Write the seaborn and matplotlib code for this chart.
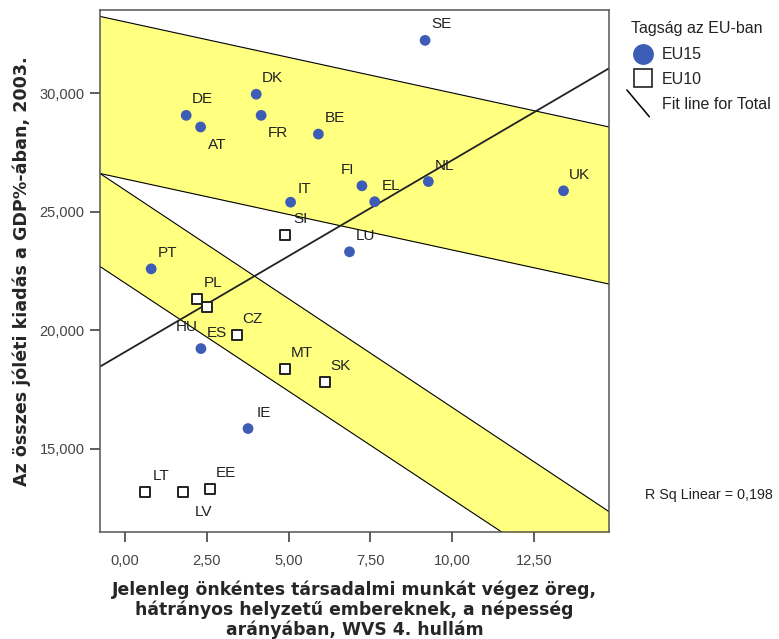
import numpy as np
import pandas as pd
import matplotlib
matplotlib.use("Agg")
import matplotlib.pyplot as plt
import seaborn as sns
from matplotlib.lines import Line2D
from matplotlib.legend_handler import HandlerBase
from matplotlib.ticker import FuncFormatter, FixedLocator

# country data
eu15_codes = ["SE", "DK", "DE", "AT", "FR", "BE", "FI", "EL", "NL", "UK", "IT", "LU", "PT", "ES", "IE"]
eu15_x = [9.17, 4.01, 1.87, 2.31, 4.16, 5.91, 7.24, 7.63, 9.27, 13.40, 5.06, 6.86, 0.80, 2.32, 3.76]
eu15_y = [32220, 29950, 29060, 28570, 29060, 28270, 26090, 25420, 26270, 25880, 25400, 23310, 22590, 19230, 15860]

eu10_codes = ["SI", "PL", "HU", "CZ", "MT", "SK", "LT", "LV", "EE"]
eu10_x = [4.89, 2.20, 2.51, 3.41, 4.90, 6.10, 0.60, 1.78, 2.60]
eu10_y = [24010, 21320, 21000, 19820, 18360, 17840, 13200, 13200, 13310]

# yellow bands: edge values at the left and right x limits
band_x = [-0.764, 14.79]
upper_band_top = [33230, 28570]
upper_band_bottom = [26610, 21950]
lower_band_top = [26610, 12360]
lower_band_bottom = [22690, 8510]

r2_text = "R Sq Linear = 0,198"

# label offsets in pixels (dx, dy with y up)
label_offsets = {"AT": (17, -18), "FR": (17, -18), "FI": (-14, 16), "HU": (-20, -20),
                 "LV": (20, -20), "IT": (14, 13)}
default_offset = (16, 16)

BLUE = "#3d5cb6"
YELLOW = "#ffff80"


class HandlerDiag(HandlerBase):
    def create_artists(self, legend, orig_handle, xdescent, ydescent,
                       width, height, fontsize, trans):
        line = Line2D([-xdescent - 3, -xdescent + width - 4],
                      [-ydescent + height * 1.7, -ydescent - height * 0.7],
                      color="black", lw=1.1)
        line.set_transform(trans)
        return [line]


def main():
    sns.set_style("white")
    plt.rcParams["font.family"] = ["Liberation Sans", "DejaVu Sans"]

    df15 = pd.DataFrame({"code": eu15_codes, "x": eu15_x, "y": eu15_y, "group": "EU15"})
    df10 = pd.DataFrame({"code": eu10_codes, "x": eu10_x, "y": eu10_y, "group": "EU10"})
    df = pd.concat([df15, df10], ignore_index=True)

    fig = plt.figure(figsize=(7.79, 6.39), dpi=100)
    ax = fig.add_axes([100 / 779, 1 - 532 / 639, 509 / 779, 522 / 639])
    ax.set_xlim(band_x[0], band_x[1])
    ax.set_ylim(11500, 33500)

    ax.fill_between(band_x, upper_band_bottom, upper_band_top, color=YELLOW, lw=0, zorder=0)
    ax.fill_between(band_x, lower_band_bottom, lower_band_top, color=YELLOW, lw=0, zorder=0)
    for edge in [upper_band_top, upper_band_bottom, lower_band_top, lower_band_bottom]:
        ax.plot(band_x, edge, color="black", lw=0.8, zorder=1)

    sns.regplot(data=df, x="x", y="y", scatter=False, ci=None, truncate=False,
                color="#222222", line_kws={"lw": 1.3, "zorder": 2}, ax=ax)

    sns.scatterplot(data=df15, x="x", y="y", marker="o", s=60, color=BLUE,
                    edgecolor="none", ax=ax, zorder=3)
    sns.scatterplot(data=df10, x="x", y="y", marker="s", s=60, facecolor="white",
                    edgecolor="#222222", linewidth=1.4, ax=ax, zorder=3)

    for _, row in df.iterrows():
        dx, dy = label_offsets.get(row["code"], default_offset)
        ax.annotate(row["code"], (row["x"], row["y"]), xytext=(dx * 0.72, dy * 0.72),
                    textcoords="offset points", ha="center", va="center",
                    fontsize=11, color="#222222", zorder=4)

    ax.set_xlim(band_x[0], band_x[1])
    ax.set_ylim(11500, 33500)
    ax.xaxis.set_major_locator(FixedLocator([0, 2.5, 5, 7.5, 10, 12.5]))
    ax.yaxis.set_major_locator(FixedLocator([15000, 20000, 25000, 30000]))
    ax.xaxis.set_major_formatter(FuncFormatter(lambda v, p: f"{v:.2f}".replace(".", ",")))
    ax.yaxis.set_major_formatter(FuncFormatter(lambda v, p: f"{v:,.0f}"))
    ax.tick_params(axis="both", direction="out", length=7, width=1.1, color="#333333",
                   labelsize=10.5, labelcolor="#444444", bottom=True, left=True)
    ax.tick_params(axis="x", pad=9)
    ax.tick_params(axis="y", pad=4)
    for sp in ax.spines.values():
        sp.set_color("#555555")
        sp.set_linewidth(1.1)

    ax.set_xlabel("Jelenleg önkéntes társadalmi munkát végez öreg,\n"
                  "hátrányos helyzetű embereknek, a népesség\n"
                  "arányában, WVS 4. hullám",
                  fontsize=12.4, fontweight="bold", family="DejaVu Sans",
                  linespacing=1.1, labelpad=9)
    ax.set_ylabel("Az összes jóléti kiadás a GDP%-ában, 2003.",
                  fontsize=12.6, fontweight="bold", family="DejaVu Sans", labelpad=6)

    handles = [
        Line2D([], [], marker="o", linestyle="none", markersize=15, color=BLUE, markeredgecolor="none"),
        Line2D([], [], marker="s", linestyle="none", markersize=13, markerfacecolor="white",
               markeredgecolor="#222222", markeredgewidth=1.2),
        Line2D([], [], color="black"),
    ]
    leg = ax.legend(handles, ["EU15", "EU10", "Fit line for Total"], title="Tagság az EU-ban",
                    loc="upper left", bbox_to_anchor=(631 / 779, 1 - 21 / 639),
                    bbox_transform=fig.transFigure, frameon=False, fontsize=11.5,
                    title_fontsize=11.5, alignment="left", handlelength=1.5,
                    handletextpad=0.45, labelspacing=0.62, borderaxespad=0, borderpad=0,
                    handler_map={handles[2]: HandlerDiag()})
    leg._legend_box.sep = 8
    for t in leg.get_texts():
        t.set_color("#222222")
    leg.get_title().set_color("#222222")

    fig.text(645 / 779, 1 - 495 / 639, r2_text, fontsize=10.3, va="center", ha="left",
             color="#222222")

    fig.savefig("out.png", dpi=100)


if __name__ == "__main__":
    main()
